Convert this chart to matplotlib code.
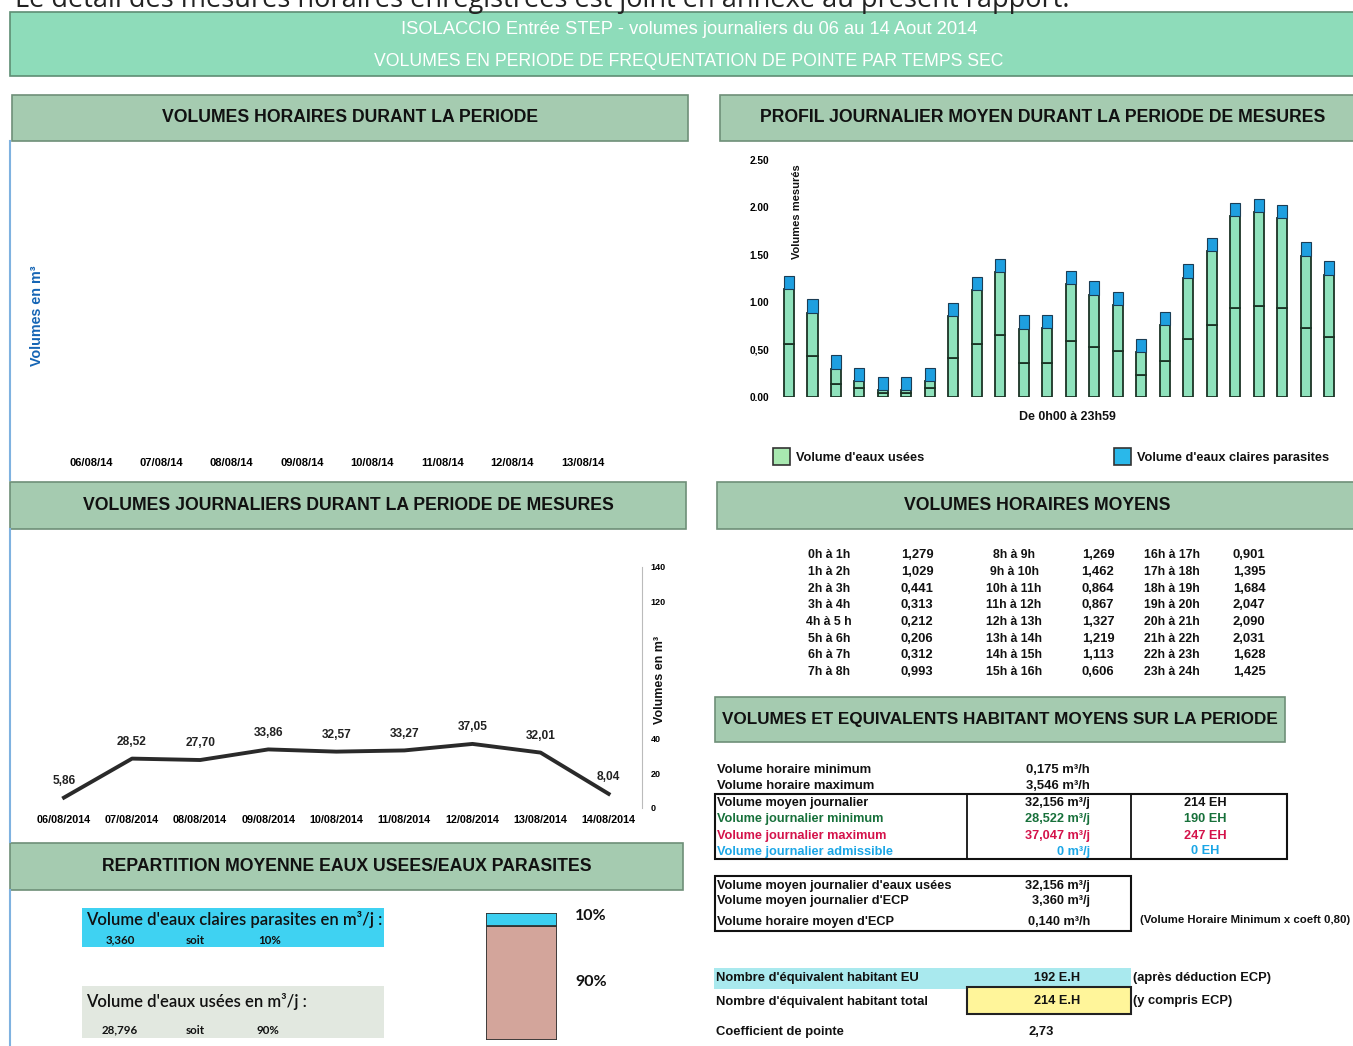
import numpy as np
import matplotlib
matplotlib.use("Agg")
import matplotlib.pyplot as plt
from matplotlib.patches import Rectangle

plt.rcParams['font.family'] = ['Liberation Sans', 'DejaVu Sans']

# ---------------- DATA ----------------
hour_labels = ["0h à 1h", "1h à 2h", "2h à 3h", "3h à 4h", "4h à 5 h", "5h à 6h", "6h à 7h", "7h à 8h",
               "8h à 9h", "9h à 10h", "10h à 11h", "11h à 12h", "12h à 13h", "13h à 14h", "14h à 15h", "15h à 16h",
               "16h à 17h", "17h à 18h", "18h à 19h", "19h à 20h", "20h à 21h", "21h à 22h", "22h à 23h", "23h à 24h"]
hour_totals = [1.279, 1.029, 0.441, 0.313, 0.212, 0.206, 0.312, 0.993,
               1.269, 1.462, 0.864, 0.867, 1.327, 1.219, 1.113, 0.606,
               0.901, 1.395, 1.684, 2.047, 2.090, 2.031, 1.628, 1.425]
# profile chart
eu_hour = [1.14, 0.89, 0.30, 0.17, 0.07, 0.07, 0.17, 0.85, 1.13, 1.32, 0.72, 0.73,
           1.19, 1.08, 0.97, 0.47, 0.76, 1.26, 1.54, 1.91, 1.95, 1.89, 1.49, 1.29]
eu_lower = [0.56, 0.43, 0.14, 0.09, 0.04, 0.04, 0.09, 0.41, 0.56, 0.65, 0.36, 0.36,
            0.59, 0.53, 0.48, 0.23, 0.38, 0.61, 0.76, 0.94, 0.96, 0.94, 0.73, 0.63]
ecp_hour = [0.14] * 24
profile_yticks = [0.0, 0.5, 1.0, 1.5, 2.0, 2.5]
profile_yticklabels = ["0.00", "0,50", "1.00", "1.50", "2.00", "2.50"]

hourly_dates = ["06/08/14", "07/08/14", "08/08/14", "09/08/14", "10/08/14", "11/08/14", "12/08/14", "13/08/14"]

daily_dates = ["06/08/2014", "07/08/2014", "08/08/2014", "09/08/2014", "10/08/2014",
               "11/08/2014", "12/08/2014", "13/08/2014", "14/08/2014"]
daily_volumes = [5.86, 28.52, 27.70, 33.86, 32.57, 33.27, 37.05, 32.01, 8.04]
daily_yticks = [0, 20, 40, 60, 80, 100, 120, 140]
daily_yticklabels = ["0", "20", "40", "", "", "", "120", "140"]   # 60-100 hidden under the axis title

share_labels = ["Eaux usées", "Eaux claires parasites"]
share_pct = [90, 10]

# ---------------- FIGURE ----------------
W, H = 1353, 1046
fig = plt.figure(figsize=(W / 100, H / 100), dpi=100)
fig.patch.set_facecolor('white')

bg = fig.add_axes([0, 0, 1, 1], zorder=0)
bg.set_xlim(0, W)
bg.set_ylim(H, 0)
bg.axis('off')


def frac(x0, y0, x1, y1):
    return [x0 / W, 1 - y1 / H, (x1 - x0) / W, (y1 - y0) / H]


def rect(x0, y0, x1, y1, fc, ec='none', lw=1.0, z=1):
    bg.add_patch(Rectangle((x0, y0), x1 - x0, y1 - y0, facecolor=fc, edgecolor=ec, linewidth=lw, zorder=z))


def txt(x, y, s, size=8, weight='bold', color='#111111', ha='left', va='center', **kw):
    bg.text(x, y, s, fontsize=size, fontweight=weight, color=color, ha=ha, va=va, **kw)


# cropped line of text at the very top
bg.text(15, 7, "Le détail des mesures horaires enregistrées est joint en annexe au présent rapport.",
        fontsize=19.5, family=['Open Sans', 'DejaVu Sans'], color='#222222', ha='left', va='baseline')

# banner
rect(10, 12, 1360, 76, '#8EDCBA', '#5E8E74', 1.2)
txt(689, 29, "ISOLACCIO Entrée STEP - volumes journaliers du 06 au 14 Aout 2014", size=13.2, weight='normal',
    color='white', ha='center')
txt(689, 61, "VOLUMES EN PERIODE DE FREQUENTATION DE POINTE PAR TEMPS SEC", size=12.7, weight='normal',
    color='white', ha='center')


def header(x0, y0, x1, y1, s, size=12.7, cx=None):
    rect(x0, y0, x1, y1, '#A5CBB0', '#6E8F78', 1.2)
    txt((x0 + x1) / 2 if cx is None else cx, (y0 + y1) / 2, s, size=size, ha='center')


header(12, 95, 688, 141, "VOLUMES HORAIRES DURANT LA PERIODE")
header(720, 95, 1360, 141, "PROFIL JOURNALIER MOYEN DURANT LA PERIODE DE MESURES", cx=1043)
header(10, 482, 686, 529, "VOLUMES JOURNALIERS DURANT LA PERIODE DE MESURES")
header(717, 482, 1360, 529, "VOLUMES HORAIRES MOYENS", cx=1037)
header(715, 697, 1285, 742, "VOLUMES ET EQUIVALENTS HABITANT MOYENS SUR LA PERIODE", size=12.3)
header(10, 843, 683, 890, "REPARTITION MOYENNE EAUX USEES/EAUX PARASITES")

# left blue panel borders
for (y0, y1) in [(141, 480), (529, 842), (890, 1046)]:
    bg.plot([10, 10], [y0, y1], color='#7FB2E0', lw=1.5, zorder=2)

# ---------------- top-left : hourly volumes (faded) ----------------
ax1 = fig.add_axes(frac(56, 150, 626, 452), zorder=2)
ax1.patch.set_alpha(0)
ax1.set_xlim(-0.506, 7.62)
ax1.set_ylim(0, 1)
for s in ax1.spines.values():
    s.set_visible(False)
ax1.set_yticks([])
ax1.set_xticks(range(len(hourly_dates)))
ax1.set_xticklabels(hourly_dates, fontsize=8, fontweight='bold')
ax1.tick_params(axis='x', length=0, pad=4)
txt(37, 316, "Volumes en m³", size=10.3, color='#1565B5', ha='center', rotation=90)

# ---------------- top-right : daily profile ----------------
ax2 = fig.add_axes(frac(775, 160, 1345, 397), zorder=2)
ax2.patch.set_alpha(0)
x = np.arange(24)
eu_upper = [a - b for a, b in zip(eu_hour, eu_lower)]
bw = 0.43
green = '#8FE2BC'
edge = '#1B3325'
ax2.bar(x, eu_lower, bw, color=green, edgecolor=edge, linewidth=1.3, zorder=3)
ax2.bar(x, eu_upper, bw, bottom=eu_lower, color=green, edgecolor=edge, linewidth=1.3, zorder=3)
ax2.bar(x, ecp_hour, bw, bottom=eu_hour, color='#1E9FE0', edgecolor='#1B3D55', linewidth=0.8, zorder=3)
ax2.set_xlim(-0.596, 23.68)
ax2.set_ylim(0, 2.5)
for s in ax2.spines.values():
    s.set_visible(False)
ax2.set_xticks([])
ax2.set_yticks(profile_yticks)
ax2.set_yticklabels(profile_yticklabels, fontsize=7.3, fontweight='bold')
ax2.tick_params(axis='y', length=0, pad=4)
txt(797, 212, "Volumes mesurés", size=8, ha='center', rotation=90)
txt(1067, 417, "De 0h00 à 23h59", size=8.9, ha='center')
# legend
rect(773, 448, 790, 465, '#A8E8B0', '#333333', 1.2, z=3)
txt(796, 458, "Volume d'eaux usées", size=9.2)
rect(1114, 448, 1131, 465, '#2AB8EA', '#333333', 1.2, z=3)
txt(1137, 458, "Volume d'eaux claires parasites", size=9.2)

# ---------------- middle-left : daily volumes ----------------
ax3 = fig.add_axes(frac(40, 566.7, 642, 807.7), zorder=2)
ax3.patch.set_alpha(0)
xd = np.arange(len(daily_dates))
ax3.plot(xd, daily_volumes, color='#2A2A2A', lw=2.8, solid_joinstyle='round', zorder=3)
for xi, v in zip(xd, daily_volumes):
    ax3.annotate(f"{v:.2f}".replace('.', ','), (xi, v), xytext=(0, 12), textcoords='offset points',
                 ha='center', va='center', fontsize=8.6, fontweight='bold', color='#222222')
ax3.set_xlim(-0.352, 8.49)
ax3.set_ylim(0, 140)
for k, s in ax3.spines.items():
    s.set_visible(k == 'right')
ax3.spines['right'].set_color('#BBBBBB')
ax3.yaxis.tick_right()
ax3.set_yticks(daily_yticks)
ax3.set_yticklabels(daily_yticklabels, fontsize=6.5, fontweight='bold')
ax3.tick_params(axis='y', length=0, pad=6)
ax3.set_xticks(xd)
ax3.set_xticklabels(daily_dates, fontsize=7.8, fontweight='bold')
ax3.tick_params(axis='x', length=0, pad=5)
txt(660, 680, "Volumes en m³", size=9, ha='center', rotation=90)

# ---------------- middle-right : table ----------------
row_y = [555, 572, 589, 605.5, 622, 639, 655, 672]
col_lab = [829, 1014, 1172]
col_val = [917, 1098, 1249]
for c in range(3):
    for r in range(8):
        i = c * 8 + r
        txt(col_lab[c], row_y[r], hour_labels[i], size=8.8, ha='center')
        txt(col_val[c], row_y[r], f"{hour_totals[i]:.3f}".replace('.', ','), size=9.4, ha='center')

# ---------------- lower-right : volumes & EH ----------------
txt(717, 770, "Volume horaire minimum", size=9.4)
txt(1090, 770, "0,175 m³/h", size=9.4, ha='right')
txt(717, 786, "Volume horaire maximum", size=9.4)
txt(1090, 786, "3,546 m³/h", size=9.4, ha='right')

bg.add_patch(Rectangle((714.5, 794), 572.5, 65, facecolor='none', edgecolor='#111111', lw=1.5, zorder=3))
bg.plot([966.5, 966.5], [794, 859], color='#111111', lw=1.3, zorder=3)
bg.plot([1131, 1131], [794, 859], color='#111111', lw=1.3, zorder=3)
rows1 = [("Volume moyen journalier", "32,156 m³/j", "214 EH", '#111111', 803),
         ("Volume journalier minimum", "28,522 m³/j", "190 EH", '#17703A', 819),
         ("Volume journalier maximum", "37,047 m³/j", "247 EH", '#D4124A', 836),
         ("Volume journalier admissible", "0 m³/j", "0 EH", '#1AA6E6', 851.5)]
for lab, v, eh, col, yy in rows1:
    txt(717, yy, lab, size=9.2, color=col)
    txt(1090, yy, v, size=9.2, color=col, ha='right')
    txt(1205, yy, eh, size=9.2, color=col, ha='center')

bg.add_patch(Rectangle((714.5, 876), 416.5, 55, facecolor='none', edgecolor='#111111', lw=1.5, zorder=3))
rows2 = [("Volume moyen journalier d'eaux usées", "32,156 m³/j", 886),
         ("Volume moyen journalier d'ECP", "3,360 m³/j", 901),
         ("Volume horaire moyen d'ECP", "0,140 m³/h", 922)]
for lab, v, yy in rows2:
    txt(717, yy, lab, size=9.2)
    txt(1090, yy, v, size=9.2, ha='right')
txt(1140, 920, "(Volume Horaire Minimum x coeft 0,80)", size=8.2)

rect(714, 968, 1131, 989, '#A9E9EE', z=1)
rect(966.5, 987, 1131, 1013.5, '#FFF59A', '#222222', 1.5, z=2)
txt(716, 978, "Nombre d'équivalent habitant EU", size=9.4)
txt(1057, 978, "192 E.H", size=9.2, ha='center')
txt(1133, 978, "(après déduction ECP)", size=9.3)
txt(716, 1002, "Nombre d'équivalent habitant total", size=9.4)
txt(1057, 1001, "214 E.H", size=9.2, ha='center')
txt(1133, 1001, "(y compris ECP)", size=9.3)
txt(716, 1032, "Coefficient de pointe", size=9.4)
txt(1041, 1032, "2,73", size=9.4, ha='center')

# ---------------- lower-left : repartition ----------------
rect(82, 908, 384, 947, '#3FD2F2', z=1)
bg.text(86, 920, "Volume d'eaux claires parasites en m³/j :", fontsize=12, fontweight='semibold',
        family=['Lato', 'DejaVu Sans'], color='#111111', ha='left', va='center')
for xx, s in [(120, "3,360"), (195, "soit"), (270, "10%")]:
    bg.text(xx, 940, s, fontsize=8.3, fontweight='bold', family=['Lato', 'DejaVu Sans'],
            color='#111111', ha='center', va='center')
rect(82, 986, 384, 1038, '#E2E8E0', z=1)
bg.text(86, 1001, "Volume d'eaux usées en m³/j :", fontsize=12, fontweight='semibold',
        family=['Lato', 'DejaVu Sans'], color='#111111', ha='left', va='center')
for xx, s in [(120, "28,796"), (195, "soit"), (268, "90%")]:
    bg.text(xx, 1030, s, fontsize=8.3, fontweight='bold', family=['Lato', 'DejaVu Sans'],
            color='#111111', ha='center', va='center')

ax4 = fig.add_axes(frac(486, 913, 557, 1040), zorder=2)
ax4.patch.set_alpha(0)
ax4.bar([0], [share_pct[0]], 1.0, color='#D3A59B', edgecolor='#333333', linewidth=1.3)
ax4.bar([0], [share_pct[1]], 1.0, bottom=[share_pct[0]], color='#3CCFF0', edgecolor='#333333', linewidth=1.3)
ax4.set_xlim(-0.5, 0.5)
ax4.set_ylim(0, 100)
ax4.axis('off')
bg.text(575, 916, "10%", fontsize=11.5, fontweight='bold', family=['Lato', 'DejaVu Sans'], color='#111111', va='center')
bg.text(575, 982, "90%", fontsize=11.5, fontweight='bold', family=['Lato', 'DejaVu Sans'], color='#111111', va='center')

fig.savefig("out.png", dpi=100, facecolor='white')
